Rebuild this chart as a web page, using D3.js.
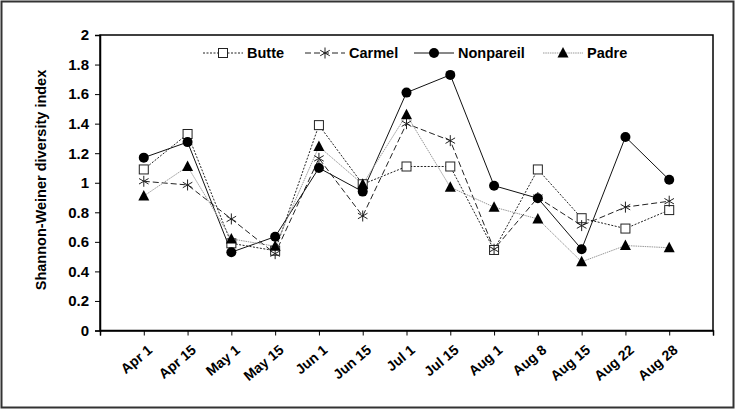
<!DOCTYPE html>
<html>
<head>
<meta charset="utf-8">
<script src="https://cdn.jsdelivr.net/npm/d3@7"></script>
<style>
  body { margin: 0; background: #fff; }
  text { font-family: Arial, "Liberation Sans", sans-serif; font-weight: bold; fill: #000; }
</style>
</head>
<body>
<svg id="chart" width="740" height="411"></svg>
<script>
// sampling dates
const dates = ["Apr 1", "Apr 15", "May 1", "May 15", "Jun 1", "Jun 15", "Jul 1",
               "Jul 15", "Aug 1", "Aug 8", "Aug 15", "Aug 22", "Aug 28"];

// Shannon-Weiner index per site
const butte     = [1.09, 1.33, 0.59, 0.54, 1.39, 0.99, 1.11, 1.11, 0.545, 1.09, 0.76, 0.69, 0.815];
const carmel    = [1.01, 0.985, 0.755, 0.52, 1.165, 0.775, 1.40, 1.285, 0.55, 0.90, 0.71, 0.835, 0.875];
const nonpareil = [1.17, 1.275, 0.53, 0.635, 1.10, 0.94, 1.61, 1.73, 0.98, 0.895, 0.55, 1.31, 1.02];
const padre     = [0.91, 1.11, 0.62, 0.57, 1.245, 0.99, 1.46, 0.97, 0.835, 0.755, 0.465, 0.575, 0.56];

const yTicks = [0, 0.2, 0.4, 0.6, 0.8, 1, 1.2, 1.4, 1.6, 1.8, 2];

const series = [
  {name: "Butte", values: butte, marker: "square", stroke: "#222", dash: "2,1.5", width: 1},
  {name: "Carmel", values: carmel, marker: "asterisk", stroke: "#222", dash: "6,3", width: 1},
  {name: "Nonpareil", values: nonpareil, marker: "circle", stroke: "#111", dash: null, width: 1},
  {name: "Padre", values: padre, marker: "triangle", stroke: "#999", dash: "1.5,0.8", width: 1}
];

const svg = d3.select("#chart");
const plotL = 100, plotR = 713, plotT = 35, plotB = 330.5;

// outer frame
svg.append("rect")
  .attr("x", 1.5).attr("y", 1.5)
  .attr("width", 732).attr("height", 406)
  .attr("fill", "none").attr("stroke", "#333").attr("stroke-width", 2);

const x = d3.scaleLinear().domain([0, dates.length + 1]).range([plotL, plotR]);
const y = d3.scaleLinear().domain([0, 2]).range([plotB, plotT]);

// plot box
svg.append("rect")
  .attr("x", plotL).attr("y", plotT)
  .attr("width", plotR - plotL).attr("height", plotB - plotT)
  .attr("fill", "none").attr("stroke", "#000").attr("stroke-width", 1.5);

// y axis
const yAxis = svg.append("g")
  .attr("transform", `translate(${plotL},0)`)
  .call(d3.axisLeft(y).tickValues(yTicks).tickSize(5).tickPadding(6)
    .tickFormat(d => d3.format("")(+d.toFixed(1))));
yAxis.select(".domain").attr("stroke-width", 1.5);
yAxis.selectAll("text").style("font-size", "15px");

// x axis, one tick per slot incl. both ends
const xAxis = svg.append("g")
  .attr("transform", `translate(0,${plotB})`)
  .call(d3.axisBottom(x).tickValues(d3.range(0, dates.length + 2)).tickSize(5)
    .tickFormat(i => (i >= 1 && i <= dates.length) ? dates[i - 1] : ""));
xAxis.select(".domain").attr("stroke-width", 1.5);
xAxis.selectAll("text")
  .style("font-size", "14px")
  .attr("text-anchor", "end")
  .attr("dy", null).attr("y", 0)
  .attr("transform", "translate(9,21) rotate(-40)");

// y label
svg.append("text")
  .attr("transform", `translate(46,180) rotate(-90)`)
  .attr("text-anchor", "middle")
  .style("font-size", "14.5px")
  .text("Shannon-Weiner diversity index");

function drawMarker(g, type, cx, cy) {
  if (type === "square") {
    g.append("rect").attr("x", cx - 4.5).attr("y", cy - 4.5).attr("width", 9).attr("height", 9)
      .attr("fill", "#fff").attr("stroke", "#222").attr("stroke-width", 1);
  } else if (type === "circle") {
    g.append("circle").attr("cx", cx).attr("cy", cy).attr("r", 5).attr("fill", "#000");
  } else if (type === "triangle") {
    g.append("path").attr("d", `M${cx},${cy - 6}L${cx + 5.5},${cy + 4.5}L${cx - 5.5},${cy + 4.5}Z`)
      .attr("fill", "#000");
  } else if (type === "asterisk") {
    const r = 5.5, a = r * 0.87, b = r * 0.5;
    g.append("path")
      .attr("d", `M${cx},${cy - r}V${cy + r}M${cx - a},${cy - b}L${cx + a},${cy + b}M${cx - a},${cy + b}L${cx + a},${cy - b}`)
      .attr("stroke", "#222").attr("stroke-width", 1).attr("fill", "none");
  }
}

const line = d3.line().x((d, i) => x(i + 1)).y(d => y(d));

series.forEach(s => {
  svg.append("path")
    .attr("d", line(s.values))
    .attr("fill", "none")
    .attr("stroke", s.stroke)
    .attr("stroke-width", s.width)
    .attr("stroke-dasharray", s.dash);
});
series.forEach(s => {
  const g = svg.append("g");
  s.values.forEach((v, i) => drawMarker(g, s.marker, x(i + 1), y(v)));
});

// legend
const legendX = [203, 305, 414, 543];
const legendY = 53;
series.forEach((s, i) => {
  const g = svg.append("g");
  const x0 = legendX[i];
  g.append("line").attr("x1", x0).attr("x2", x0 + 40)
    .attr("y1", legendY).attr("y2", legendY)
    .attr("stroke", s.stroke).attr("stroke-width", s.width)
    .attr("stroke-dasharray", s.dash);
  drawMarker(g, s.marker, x0 + 20, legendY);
  g.append("text").attr("x", x0 + 44).attr("y", legendY + 5)
    .style("font-size", "14.5px").text(s.name);
});
</script>
</body>
</html>
